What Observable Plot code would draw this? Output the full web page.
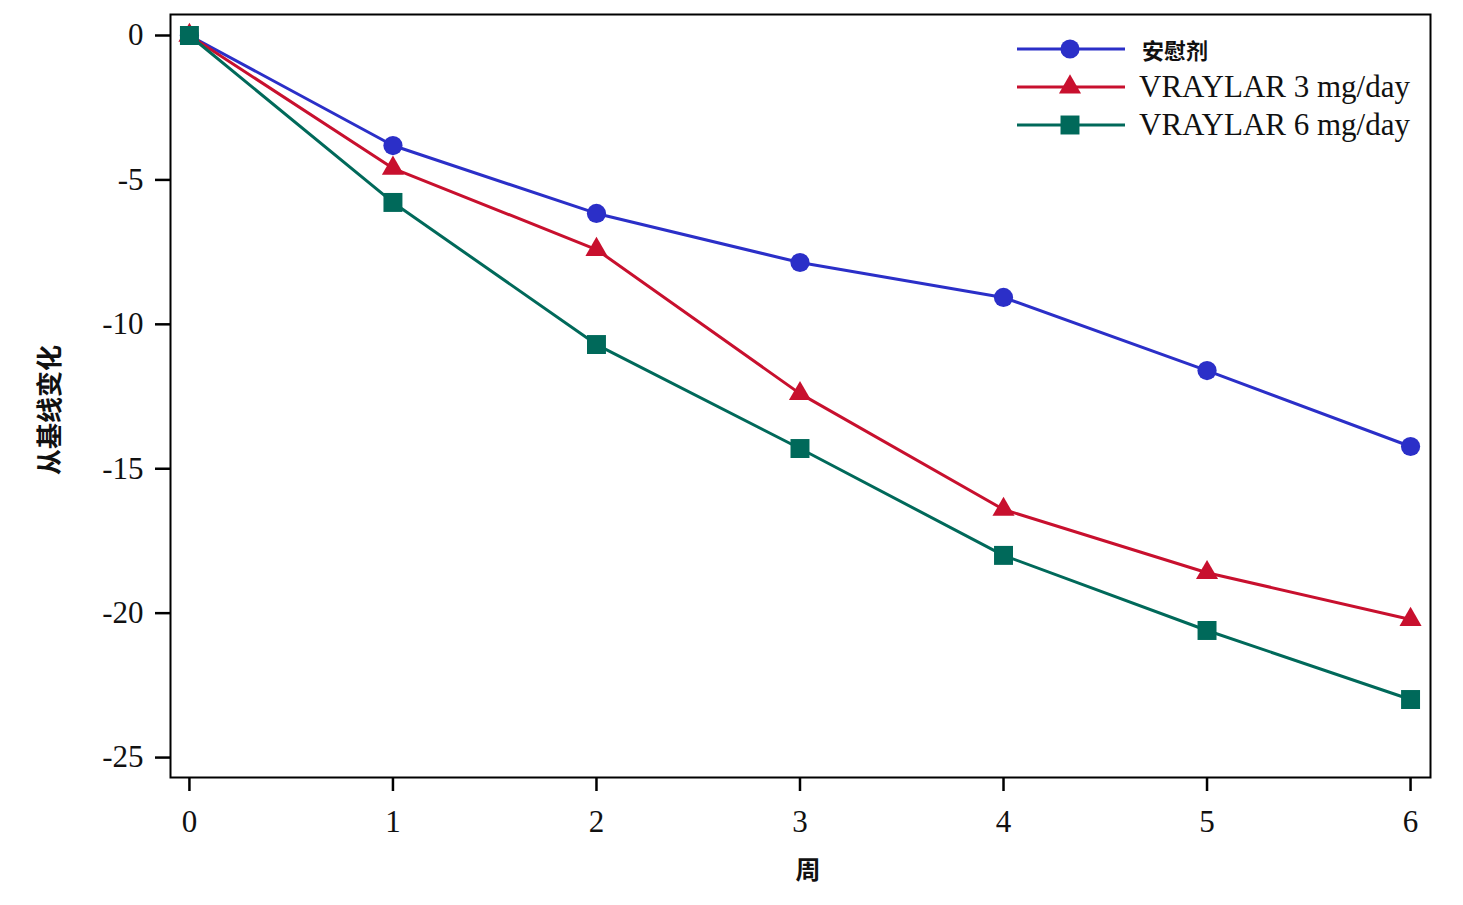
<!DOCTYPE html>
<html>
<head>
<meta charset="utf-8">
<script src="https://cdn.jsdelivr.net/npm/d3@7"></script>
<script src="https://cdn.jsdelivr.net/npm/@observablehq/plot@0.6"></script>
<style>
  html, body { margin: 0; padding: 0; background: #fff; }
  #wrap { position: relative; width: 1463px; height: 905px; }
  #legend { position: absolute; left: 1015px; top: 30px; }
  .row { display: flex; align-items: center; height: 38px; }
  .lab { margin-left: 14px; white-space: nowrap; }
  .ser { font-family: "Liberation Serif", "DejaVu Serif", serif; font-size: 31px; color: #111; }
  .cjk { font-family: "Noto Sans CJK SC", sans-serif; font-weight: bold; font-size: 22px; color: #111; margin-left: 17px; }
</style>
</head>
<body>
<div id="wrap">
  <div id="chart"></div>
  <div id="legend"></div>
</div>
<script>
const weeks = [0, 1, 2, 3, 4, 5, 6];
const seriesNames = ["安慰剂", "VRAYLAR 3 mg/day", "VRAYLAR 6 mg/day"];
const placebo = [0, -3.81, -6.16, -7.86, -9.07, -11.6, -14.23];
const vraylar3 = [0, -4.6, -7.41, -12.4, -16.41, -18.6, -20.22];
const vraylar6 = [0, -5.78, -10.7, -14.3, -18.0, -20.6, -22.99];
const yTicks = [0, -5, -10, -15, -20, -25];
const xLabel = "周";
const yLabel = "从基线变化";

const colors = ["#2B2FC8", "#C8102E", "#00695A"];
const symbols = ["circle", "triangle", "square"];
const sizes = [9.6, 8.2, 10.7];

const allSeries = [placebo, vraylar3, vraylar6];
const data = [];
allSeries.forEach((vals, si) => {
  vals.forEach((v, i) => data.push({ week: weeks[i], value: v, series: seriesNames[si] }));
});

const serif = '"Liberation Serif", "DejaVu Serif", serif';
const cjk = '"Noto Sans CJK SC", sans-serif';

const marks = [Plot.frame({ stroke: "#000", strokeWidth: 2 })];
seriesNames.forEach((name, si) => {
  const d = data.filter(r => r.series === name);
  marks.push(Plot.line(d, { x: "week", y: "value", stroke: colors[si], strokeWidth: 3 }));
  marks.push(Plot.dot(d, { x: "week", y: "value", fill: colors[si], stroke: "none", symbol: symbols[si], r: sizes[si] }));
});

const chart = Plot.plot({
  width: 1463,
  height: 905,
  marginLeft: 170,
  marginTop: 14,
  marginRight: 33,
  marginBottom: 128,
  style: { fontFamily: serif, background: "#fff" },
  x: { domain: [-0.093, 6.098], label: null },
  y: { domain: [-25.69, 0.727], label: null },
  marks: [
    Plot.axisX({ ticks: weeks, tickSize: 14, tickPadding: 18, fontSize: 31, fontFamily: serif, strokeWidth: 2.5, stroke: "#000", fill: "#111", label: null, tickFormat: d => String(d) }),
    Plot.axisY({ ticks: yTicks, tickSize: 15, tickPadding: 12, fontSize: 31, fontFamily: serif, strokeWidth: 2.5, stroke: "#000", fill: "#111", label: null, tickFormat: d => String(d) }),
    ...marks
  ]
});

const svg = d3.select(chart);
svg.append("text")
  .attr("x", 808).attr("y", 872)
  .attr("text-anchor", "middle").attr("dominant-baseline", "middle")
  .style("font-family", cjk).style("font-weight", "bold").style("font-size", "25px").style("fill", "#111")
  .text(xLabel);
svg.append("text")
  .attr("transform", "translate(52,410) rotate(-90)")
  .attr("text-anchor", "middle").attr("dominant-baseline", "middle")
  .style("font-family", cjk).style("font-weight", "bold").style("font-size", "26px").style("fill", "#111")
  .text(yLabel);

document.getElementById("chart").appendChild(chart);

const legend = d3.select("#legend");
seriesNames.forEach((name, si) => {
  const row = legend.append("div").attr("class", "row");
  const s = row.append("svg").attr("width", 110).attr("height", 38);
  s.append("line").attr("x1", 2).attr("x2", 110).attr("y1", 19).attr("y2", 19)
    .attr("stroke", colors[si]).attr("stroke-width", 3);
  s.append("path")
    .attr("transform", "translate(55,19)")
    .attr("d", d3.symbol(si === 0 ? d3.symbolCircle : si === 1 ? d3.symbolTriangle : d3.symbolSquare, Math.PI * sizes[si] * sizes[si])())
    .attr("fill", colors[si]);
  row.append("span").attr("class", "lab " + (si === 0 ? "cjk" : "ser")).text(name);
});
</script>
</body>
</html>
